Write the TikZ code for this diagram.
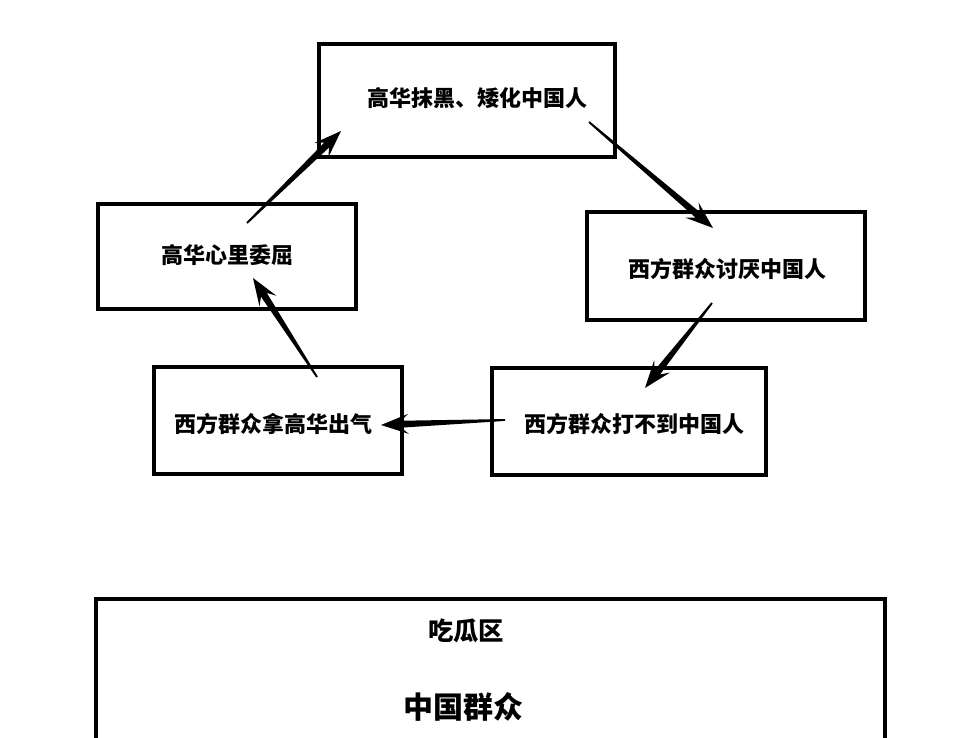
\documentclass[tikz,border=0pt]{standalone}
\usepackage{fontspec}
\newfontfamily\cjk{Noto Sans CJK SC}
\usetikzlibrary{calc}
\tikzset{
  box/.style={draw=black, line width=3pt, rectangle, inner sep=0pt},
  lbl/.style={font=\cjk\bfseries\fontsize{16.5}{20}\selectfont, inner sep=0pt},
  bigl/.style={font=\cjk\bfseries\fontsize{19}{23}\selectfont, inner sep=0pt},
  hugel/.style={font=\cjk\bfseries\fontsize{22.5}{27}\selectfont, inner sep=0pt},
}
% tapered arrow from #1 (tail) to #2 (tip)
\newcommand\taperarrow[2]{%
  \path ($(#2)!15pt!(#1)$) coordinate (tN);
  \fill[black] ($(#1)!0.7pt!90:(#2)$) -- ($(tN)!2.6pt!-90:(#1)$) -- ($(#2)!22pt!-20:(#1)$) -- (#2)
     -- ($(#2)!22pt!20:(#1)$) -- ($(tN)!2.6pt!90:(#1)$) -- ($(#1)!0.7pt!-90:(#2)$) -- cycle;
}
\begin{document}
\begin{tikzpicture}[x=0.75pt, y=-0.75pt]
\clip (0,0) rectangle (974,738);
\fill[white] (0,0) rectangle (974,738);

% boxes
\node[box, minimum width=222pt, minimum height=85pt] (top) at (467,100.5) {};
\node[box, minimum width=193.5pt, minimum height=79pt] (left) at (227,256.5) {};
\node[box, minimum width=208.5pt, minimum height=81pt] (right) at (726,266) {};
\node[box, minimum width=186pt, minimum height=80pt] (bl) at (278,420.5) {};
\node[box, minimum width=205.5pt, minimum height=80pt] (br) at (629,421.5) {};
\node[box, minimum width=592pt, minimum height=150pt, anchor=north] (zone) at (490.5,597) {};

% texts
\node[lbl] (ttop) at (477,98) {高华抹黑、矮化中国人};
\node[lbl] (tleft) at (227,255) {高华心里委屈};
\node[lbl] (tright) at (727,269) {西方群众讨厌中国人};
\node[lbl] (tbl) at (273,424) {西方群众拿高华出气};
\node[lbl] (tbr) at (634,424) {西方群众打不到中国人};
\node[bigl] (tzone) at (466,631) {吃瓜区};
\node[hugel] (tpeople) at (463,707) {中国群众};

% arrow endpoints
\coordinate (a1s) at (247,223); \coordinate (a1e) at (341,131);
\coordinate (a2s) at (589,122); \coordinate (a2e) at (713,228);
\coordinate (a3s) at (712,303); \coordinate (a3e) at (645,388);
\coordinate (a4s) at (505,420); \coordinate (a4e) at (381,425);
\coordinate (a5s) at (317,377); \coordinate (a5e) at (253,278);

\taperarrow{a1s}{a1e}
\taperarrow{a2s}{a2e}
\taperarrow{a3s}{a3e}
\taperarrow{a4s}{a4e}
\taperarrow{a5s}{a5e}
\end{tikzpicture}
\end{document}
